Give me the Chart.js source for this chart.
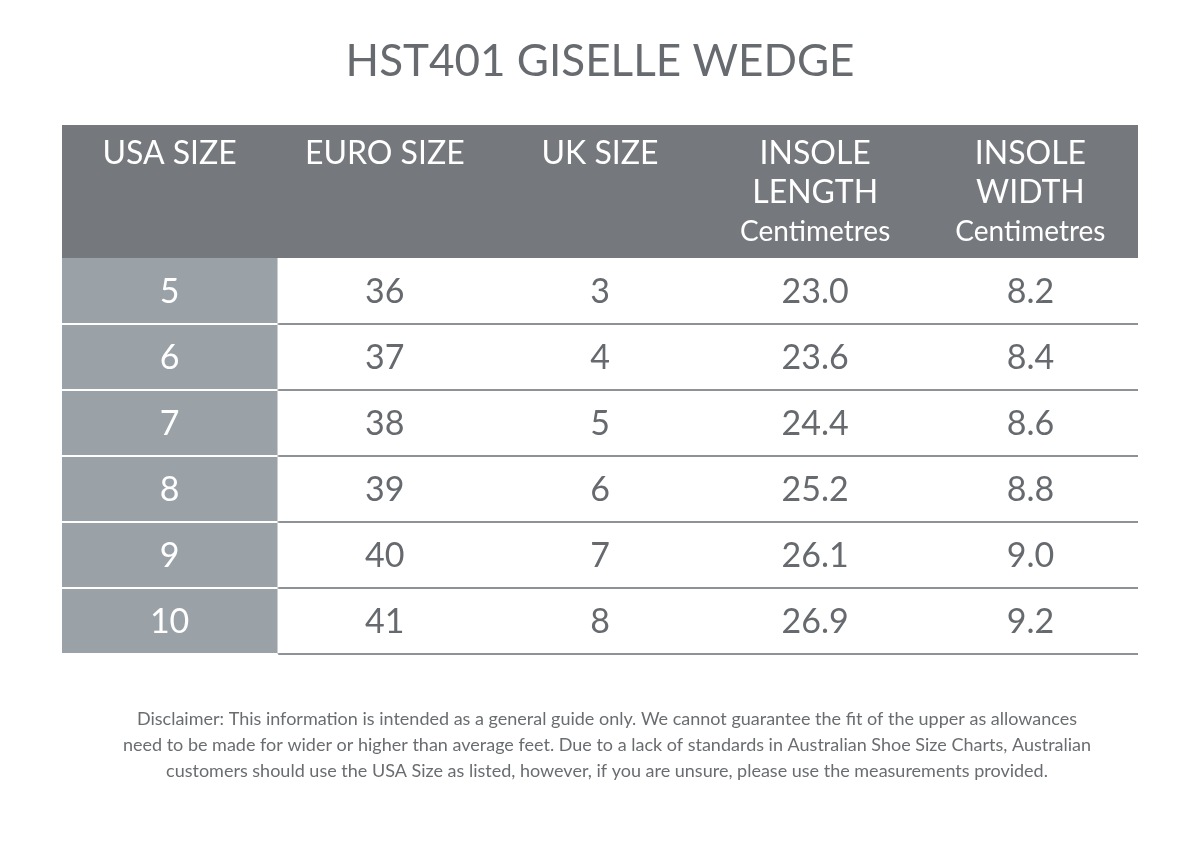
<!DOCTYPE html>
<html><head><meta charset="utf-8">
<script src="https://cdn.jsdelivr.net/npm/chart.js@4/dist/chart.umd.min.js"></script>
<style>html,body{margin:0;background:#fff}#wrap{width:1200px;height:842px;position:relative}</style>
</head><body><div id="wrap"><canvas id="c" width="1200" height="842"></canvas></div>
<script>
const TITLE = 'HST401 GISELLE WEDGE';
const HEADERS = [['USA SIZE'], ['EURO SIZE'], ['UK SIZE'], ['INSOLE', 'LENGTH', 'Centimetres'], ['INSOLE', 'WIDTH', 'Centimetres']];
const USA = ['5', '6', '7', '8', '9', '10'];
const EURO = ['36', '37', '38', '39', '40', '41'];
const UK = ['3', '4', '5', '6', '7', '8'];
const LENGTH = ['23.0', '23.6', '24.4', '25.2', '26.1', '26.9'];
const WIDTH = ['8.2', '8.4', '8.6', '8.8', '9.0', '9.2'];
const DISCLAIMER = [
  'Disclaimer: This information is intended as a general guide only. We cannot guarantee the fit of the upper as allowances',
  'need to be made for wider or higher than average feet. Due to a lack of standards in Australian Shoe Size Charts, Australian',
  'customers should use the USA Size as listed, however, if you are unsure, please use the measurements provided.'
];
const COLS = [USA, EURO, UK, LENGTH, WIDTH];
const FONT = 'Lato, "Open Sans", sans-serif';

const tablePlugin = {
  id: 'table',
  afterDatasetsDraw(chart) {
    const { ctx, scales: { x, y }, chartArea: a } = chart;
    ctx.save();
    ctx.textAlign = 'center';
    ctx.textBaseline = 'middle';
    // title
    ctx.fillStyle = '#676a6e';
    ctx.font = '44px ' + FONT;
    ctx.fillText(TITLE, 600, 62);
    // header band
    ctx.fillStyle = '#75787c';
    ctx.fillRect(a.left, 125, a.right - a.left, a.top - 125);
    HEADERS.forEach((h, i) => {
      const cx = x.getPixelForValue(i);
      h.forEach((t, j) => {
        ctx.fillStyle = '#fff';
        ctx.font = (t === 'Centimetres' ? '28px ' : '32px ') + FONT;
        ctx.fillText(t, cx, 154 + j * 39);
      });
    });
    // row separators
    for (let r = 1; r <= USA.length; r++) {
      const py = y.getPixelForValue(r);
      ctx.strokeStyle = '#fff';
      ctx.lineWidth = 2;
      ctx.beginPath(); ctx.moveTo(a.left, py); ctx.lineTo(x.getPixelForValue(0.5), py); ctx.stroke();
      ctx.strokeStyle = '#8e9296';
      ctx.beginPath(); ctx.moveTo(x.getPixelForValue(0.5) + 1, py); ctx.lineTo(a.right, py); ctx.stroke();
    }
    // cells
    ctx.font = '34px ' + FONT;
    COLS.forEach((col, i) => {
      col.forEach((v, r) => {
        ctx.fillStyle = i === 0 ? '#fff' : '#666a6e';
        ctx.fillText(v, x.getPixelForValue(i), y.getPixelForValue(r + 0.5) + 1);
      });
    });
    // disclaimer
    ctx.fillStyle = '#6a6d70';
    ctx.font = '18px ' + FONT;
    DISCLAIMER.forEach((t, i) => ctx.fillText(t, 607, 719 + i * 26));
    ctx.restore();
  }
};

new Chart(document.getElementById('c'), {
  type: 'bar',
  data: {
    labels: HEADERS.map(h => h.join(' ')),
    datasets: [{
      data: [[0, USA.length], null, null, null, null],
      backgroundColor: '#9aa2a8',
      barPercentage: 1, categoryPercentage: 1, borderWidth: 0
    }]
  },
  options: {
    responsive: false, animation: false,
    layout: { padding: { left: 62, right: 62, top: 258, bottom: 188 } },
    plugins: { legend: { display: false }, tooltip: { enabled: false } },
    scales: {
      x: { display: false },
      y: { display: false, min: 0, max: USA.length, reverse: true }
    }
  },
  plugins: [tablePlugin]
});
</script></body></html>
